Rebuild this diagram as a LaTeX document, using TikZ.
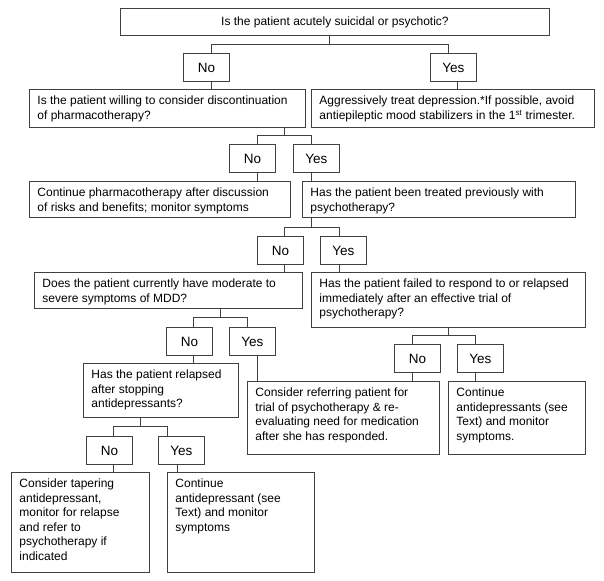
\documentclass[tikz,border=0pt]{standalone}
\usepackage{fontspec}
\setmainfont{Liberation Sans}
\definecolor{lc}{HTML}{404040}
\tikzset{
  box/.style={draw=lc, line width=0.9pt, inner xsep=8pt, inner ysep=0pt, anchor=north west,
    font=\fontsize{12}{14.5}\selectfont},
  yn/.style={draw=lc, line width=0.9pt, inner sep=0pt, anchor=north west,
    minimum width=46pt, minimum height=28pt, font=\fontsize{13.5}{16}\selectfont},
  link/.style={draw=lc, line width=0.9pt}
}
\newcommand\QB[6]{\node[box] (#1) at (#2,#3)
  {\parbox[c][#5pt][t]{\dimexpr#4pt-16pt\relax}{\raggedright\rule{0pt}{15.5pt}#6}};}
\begin{document}
\begin{tikzpicture}[x=1pt,y=-1pt]
\useasboundingbox[fill=white] (0,0) rectangle (604,580);
% top question
\node[box, inner sep=0pt, minimum width=429pt, minimum height=27pt] (q1) at (120,8)
  {Is the patient acutely suicidal or psychotic?};
\node[yn] (n1) at (183,53) {No};
\node[yn] (y1) at (430,53) {Yes};
\QB{b2}{29}{89}{276}{38}{Is the patient willing to consider discontinuation\\of pharmacotherapy?}
\QB{b3}{311}{89}{283}{38}{Aggressively treat depression.*If possible, avoid\\antiepileptic mood stabilizers in the 1\textsuperscript{st} trimester.}
\node[yn] (n2) at (229,144) {No};
\node[yn] (y2) at (293,144) {Yes};
\QB{b4}{29}{181}{261}{36}{Continue pharmacotherapy after discussion\\of risks and benefits; monitor symptoms}
\QB{b5}{302}{181}{273}{36}{Has the patient been treated previously with\\psychotherapy?}
\node[yn] (n3) at (257,236) {No};
\node[yn] (y3) at (320,236) {Yes};
\QB{b6}{34}{272}{268}{36}{Does the patient currently have moderate to\\severe symptoms of MDD?}
\QB{b7}{311}{272}{274}{55}{Has the patient failed to respond to or relapsed\\immediately after an effective trial of\\psychotherapy?}
\node[yn] (n4) at (166,327) {No};
\node[yn] (y4) at (229,327) {Yes};
\node[yn] (n5) at (394,344) {No};
\node[yn] (y5) at (457,344) {Yes};
\QB{b8}{83}{363}{155}{54}{Has the patient relapsed\\after stopping\\antidepressants?}
\QB{b9}{247}{381}{192}{73}{Consider referring patient for\\trial of psychotherapy \& re-\\evaluating need for medication\\after she has responded.}
\QB{b10}{448}{381}{137}{73}{Continue\\antidepressants (see\\Text) and monitor\\symptoms.}
\node[yn] (n6) at (86,436) {No};
\node[yn] (y6) at (158,436) {Yes};
\QB{b11}{11}{472}{138}{100}{Consider tapering\\antidepressant,\\monitor for relapse\\and refer to\\psychotherapy if\\indicated}
\QB{b12}{167}{472}{147}{100}{Continue\\antidepressant (see\\Text) and monitor\\symptoms}
% fork 1
\draw[link] (q1.south -| 329,0) -- ++(0,9) coordinate (f1);
\draw[link] (n1.north -| 211,0) |- (f1) -| (y1.north -| 448,0);
\draw[link] (n1.south -| 211,0) -- (b2.north -| 211,0);
\draw[link] (y1.south -| 457,0) -- (b3.north -| 457,0);
% fork 2
\draw[link] (b2.south -| 284,0) -- ++(0,8) coordinate (f2);
\draw[link] (n2.north -| 257,0) |- (f2) -| (y2.north -| 311,0);
\draw[link] (n2.south -| 257,0) -- (b4.north -| 257,0);
\draw[link] (y2.south -| 311,0) -- (b5.north -| 311,0);
% fork 3
\draw[link] (b5.south -| 311,0) -- ++(0,10) coordinate (f3);
\draw[link] (n3.north -| 284,0) |- (f3) -| (y3.north -| 339,0);
\draw[link] (n3.south -| 284,0) -- (b6.north -| 284,0);
\draw[link] (y3.south -| 339,0) -- (b7.north -| 339,0);
% fork 4
\draw[link] (b6.south -| 220,0) -- ++(0,9) coordinate (f4);
\draw[link] (n4.north -| 193,0) |- (f4) -| (y4.north -| 247,0);
\draw[link] (n4.south -| 193,0) -- (b8.north -| 193,0);
\draw[link] (y4.south -| 257,0) -- (b9.north -| 257,0);
% fork 5
\draw[link] (b7.south -| 448,0) -- ++(0,8) coordinate (f6);
\draw[link] (n5.north -| 412,0) |- (f6) -| (y5.north -| 475,0);
\draw[link] (n5.south -| 412,0) -- (b9.north -| 412,0);
\draw[link] (y5.south -| 475,0) -- (b10.north -| 475,0);
% fork 6
\draw[link] (b8.south -| 140,0) -- ++(0,9) coordinate (f5);
\draw[link] (n6.north -| 113,0) |- (f5) -| (y6.north -| 167,0);
\draw[link] (n6.south -| 113,0) -- (b11.north -| 113,0);
\draw[link] (y6.south -| 177,0) -- (b12.north -| 177,0);
\end{tikzpicture}
\end{document}
